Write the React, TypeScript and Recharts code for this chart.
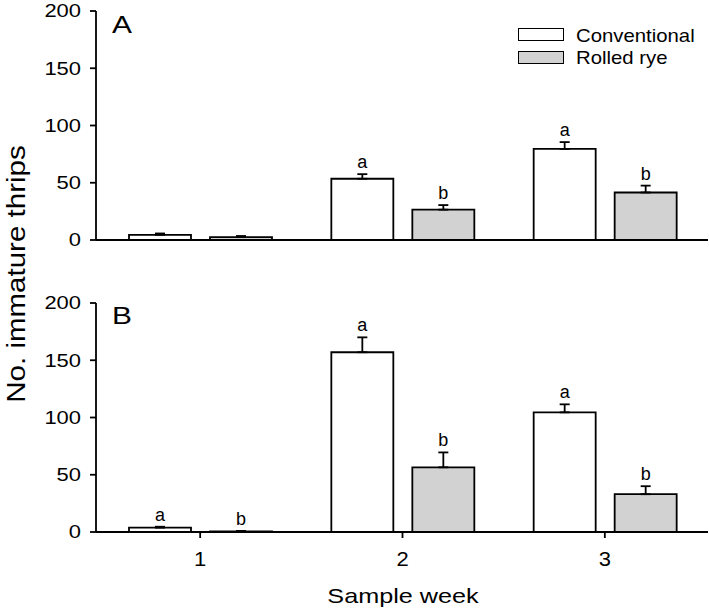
// App.tsx
import React from "react";
import {
  BarChart,
  Bar,
  XAxis,
  YAxis,
  ErrorBar,
  LabelList,
} from "recharts";

const weeks = ["1", "2", "3"];
const yTicks = [0, 50, 100, 150, 200];

// panel A
const convA = [4.5, 53.5, 79.5];
const convErrA = [1.2, 4, 6];
const ryeA = [2.5, 26.5, 41.5];
const ryeErrA = [1, 4, 6];
const convLetA = ["", "a", "a"];
const ryeLetA = ["", "b", "b"];

// panel B
const convB = [3.8, 157, 104.5];
const convErrB = [0.8, 13, 7];
const ryeB = [0.6, 56.5, 33];
const ryeErrB = [0.3, 13, 7];
const convLetB = ["a", "a", "a"];
const ryeLetB = ["b", "b", "b"];

const FONT = "'Liberation Sans', Arial, Helvetica, sans-serif";
const GREY = "#d2d2d2";
const SW = 1.8;

const buildRows = (
  conv: number[],
  convErr: number[],
  rye: number[],
  ryeErr: number[],
  convLet: string[],
  ryeLet: string[]
) =>
  weeks.map((w, i) => ({
    week: w,
    conv: conv[i],
    convErr: [0, convErr[i]],
    convTop: convErr[i],
    convLet: convLet[i],
    rye: rye[i],
    ryeErr: [0, ryeErr[i]],
    ryeTop: ryeErr[i],
    ryeLet: ryeLet[i],
  }));

const dataA = buildRows(convA, convErrA, ryeA, ryeErrA, convLetA, ryeLetA);
const dataB = buildRows(convB, convErrB, ryeB, ryeErrB, convLetB, ryeLetB);

const YTick = (props: any) => {
  const { x, y, payload } = props;
  return (
    <g transform={`translate(${x},${y})`}>
      <text
        x={0}
        y={0}
        dy="0.36em"
        textAnchor="end"
        fontSize={18}
        fontFamily={FONT}
        fill="#000"
        transform="scale(1.22,1)"
      >
        {payload.value}
      </text>
    </g>
  );
};

const XTick = (props: any) => {
  const { x, y, payload } = props;
  return (
    <g transform={`translate(${x},${y})`}>
      <text
        x={0}
        y={0}
        dy="0.72em"
        textAnchor="middle"
        fontSize={20}
        fontFamily={FONT}
        fill="#000"
        transform="scale(1.1,1)"
      >
        {payload.value}
      </text>
    </g>
  );
};

const Letter = (props: any) => {
  const { x, y, width, value } = props;
  if (!value) return null;
  return (
    <text
      x={x + width / 2}
      y={y - 6}
      textAnchor="middle"
      fontSize={18}
      fontFamily={FONT}
      fill="#000"
    >
      {value}
    </text>
  );
};

const Panel = ({ data, showTicks, top, height, marginTop, xHeight }: any) => (
  <div style={{ position: "absolute", left: 0, top }}>
    <BarChart
      width={709}
      height={height}
      data={data}
      margin={{ top: marginTop, right: 1, left: 36, bottom: 0 }}
      barSize={62}
      barGap={19}
    >
      <XAxis
        dataKey="week"
        height={xHeight}
        stroke="#000"
        strokeWidth={SW}
        tickSize={6}
        tickMargin={14}
        padding={{ left: 3, right: 2 }}
        tick={showTicks ? <XTick /> : false}
      />
      <YAxis
        width={60}
        domain={[0, 200]}
        ticks={yTicks}
        stroke="#000"
        strokeWidth={SW}
        tickSize={6}
        tickMargin={9}
        tick={<YTick />}
      />
      <Bar
        dataKey="conv"
        stackId="c"
        fill="#fff"
        stroke="#000"
        strokeWidth={SW}
        isAnimationActive={false}
      >
        <ErrorBar
          dataKey="convErr"
          direction="y"
          width={5}
          stroke="#000"
          strokeWidth={SW}
        />
      </Bar>
      <Bar
        dataKey="convTop"
        stackId="c"
        fill="none"
        stroke="none"
        legendType="none"
        isAnimationActive={false}
      >
        <LabelList dataKey="convLet" content={<Letter />} />
      </Bar>
      <Bar
        dataKey="rye"
        stackId="r"
        fill={GREY}
        stroke="#000"
        strokeWidth={SW}
        isAnimationActive={false}
      >
        <ErrorBar
          dataKey="ryeErr"
          direction="y"
          width={5}
          stroke="#000"
          strokeWidth={SW}
        />
      </Bar>
      <Bar
        dataKey="ryeTop"
        stackId="r"
        fill="none"
        stroke="none"
        legendType="none"
        isAnimationActive={false}
      >
        <LabelList dataKey="ryeLet" content={<Letter />} />
      </Bar>
    </BarChart>
  </div>
);

const textStyle: React.CSSProperties = {
  position: "absolute",
  fontFamily: FONT,
  color: "#000",
  lineHeight: 1,
  whiteSpace: "nowrap",
};

export default function App() {
  return (
    <div
      style={{
        position: "absolute",
        left: 0,
        top: 0,
        width: 709,
        height: 609,
        background: "#fff",
        overflow: "hidden",
      }}
    >
      <Panel data={dataA} showTicks={false} top={0} height={260} marginTop={11} xHeight={20} />
      <Panel data={dataB} showTicks={true} top={260} height={349} marginTop={43} xHeight={77} />

      {/* panel letters */}
      <div style={{ ...textStyle, left: 112, top: 14, fontSize: 23, transform: "scaleX(1.3)", transformOrigin: "left" }}>
        A
      </div>
      <div style={{ ...textStyle, left: 112, top: 305, fontSize: 23, transform: "scaleX(1.3)", transformOrigin: "left" }}>
        B
      </div>

      {/* legend */}
      <div style={{ position: "absolute", left: 518, top: 28, width: 44, height: 11, background: "#fff", border: "1.5px solid #000" }} />
      <div style={{ position: "absolute", left: 518, top: 51, width: 44, height: 11, background: GREY, border: "1.5px solid #000" }} />
      <div style={{ ...textStyle, left: 576, top: 26, fontSize: 19, transform: "scaleX(1.07)", transformOrigin: "left" }}>
        Conventional
      </div>
      <div style={{ ...textStyle, left: 576, top: 48, fontSize: 19, transform: "scaleX(1.07)", transformOrigin: "left" }}>
        Rolled rye
      </div>

      {/* axis titles */}
      <div
        style={{
          ...textStyle,
          left: 16,
          top: 274,
          fontSize: 25,
          transform: "translate(-50%, -50%) rotate(-90deg) scaleX(1.18)",
        }}
      >
        No. immature thrips
      </div>
      <div
        style={{
          ...textStyle,
          left: 403,
          top: 585,
          fontSize: 21,
          transform: "translateX(-50%) scaleX(1.2)",
        }}
      >
        Sample week
      </div>
    </div>
  );
}
